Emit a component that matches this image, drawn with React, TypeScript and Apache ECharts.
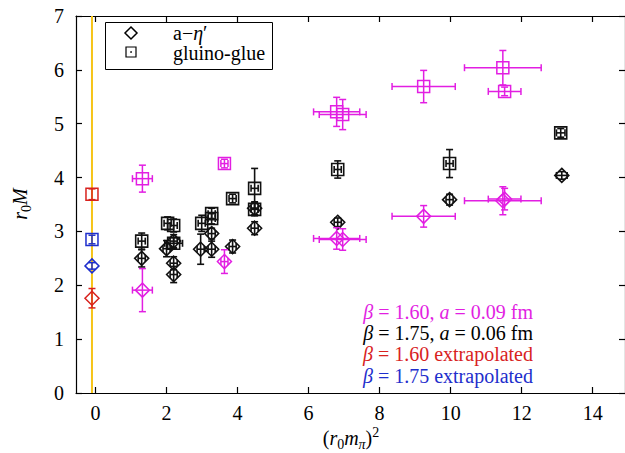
import React, { useEffect, useRef } from "react";
import * as echarts from "echarts";

// ---- axis ranges and ticks ----
const X_MIN = -0.55;
const X_MAX = 14.91;
const Y_MIN = 0;
const Y_MAX = 7;
const xTicks = [0, 2, 4, 6, 8, 10, 12, 14];
const extrapolationX = -0.1;

// ---- data: [x, y, xErr, yErr] ----
const magentaSquares = [
  [1.32, 3.98, 0.28, 0.25],
  [3.63, 4.26, 0.1, 0.08],
  [6.79, 5.22, 0.65, 0.27],
  [6.96, 5.17, 0.66, 0.28],
  [9.24, 5.69, 0.89, 0.3],
  [11.47, 6.04, 1.08, 0.32],
  [11.52, 5.6, 0.46, 0.08],
];
const magentaDiamonds = [
  [1.32, 1.91, 0.28, 0.4],
  [3.63, 2.44, 0.1, 0.22],
  [6.79, 2.87, 0.65, 0.2],
  [6.96, 2.85, 0.66, 0.2],
  [9.24, 3.28, 0.89, 0.2],
  [11.47, 3.57, 1.08, 0.26],
  [11.52, 3.6, 0.46, 0.2],
];
const blackSquares = [
  [1.3, 2.82, 0.1, 0.15],
  [2.03, 3.15, 0.1, 0.12],
  [2.2, 3.11, 0.1, 0.12],
  [2.2, 2.78, 0.25, 0.1],
  [2.99, 3.15, 0.1, 0.15],
  [3.27, 3.33, 0.1, 0.1],
  [3.27, 3.24, 0.1, 0.1],
  [3.86, 3.61, 0.1, 0.08],
  [4.48, 3.8, 0.1, 0.37],
  [4.48, 3.41, 0.1, 0.12],
  [6.82, 4.15, 0.1, 0.16],
  [9.97, 4.26, 0.1, 0.26],
  [13.1, 4.83, 0.12, 0.08],
];
const blackDiamonds = [
  [1.3, 2.5, 0.1, 0.16],
  [2.0, 2.68, 0.1, 0.15],
  [2.2, 2.82, 0.1, 0.12],
  [2.2, 2.41, 0.1, 0.12],
  [2.2, 2.2, 0.1, 0.15],
  [2.96, 2.67, 0.1, 0.28],
  [3.27, 2.96, 0.1, 0.1],
  [3.27, 2.67, 0.1, 0.15],
  [3.86, 2.72, 0.1, 0.12],
  [4.48, 3.43, 0.1, 0.12],
  [4.48, 3.06, 0.1, 0.12],
  [6.82, 3.17, 0.1, 0.08],
  [9.97, 3.59, 0.1, 0.1],
  [13.13, 4.04, 0.15, 0.07],
];
const redSquares = [[extrapolationX, 3.69, 0, 0.1]];
const redDiamonds = [[extrapolationX, 1.76, 0, 0.18]];
const blueSquares = [[extrapolationX, 2.85, 0, 0.08]];
const blueDiamonds = [[extrapolationX, 2.36, 0, 0.06]];

const MAGENTA = "#e21ee2";
const BLACK = "#111111";
const RED = "#d8221e";
const BLUE = "#1e2ecc";
const YELLOW = "#f6c418";
const FONT = "'Liberation Serif', 'DejaVu Serif', serif";

function makeSeries(name: string, data: number[][], color: string, shape: string, lw: number) {
  return {
    type: "custom",
    name,
    data,
    xAxisIndex: 0,
    yAxisIndex: 0,
    z: 5,
    renderItem: (_params: any, api: any) => {
      const x = api.value(0);
      const y = api.value(1);
      const xe = api.value(2);
      const ye = api.value(3);
      const c = api.coord([x, y]);
      const cx = c[0];
      const cy = c[1];
      const style = { stroke: color, lineWidth: lw, fill: "none" };
      const cap = 3.5;
      const children: any[] = [];
      if (xe > 0) {
        const xl = api.coord([x - xe, y])[0];
        const xr = api.coord([x + xe, y])[0];
        children.push({ type: "line", shape: { x1: xl, y1: cy, x2: xr, y2: cy }, style });
        children.push({ type: "line", shape: { x1: xl, y1: cy - cap, x2: xl, y2: cy + cap }, style });
        children.push({ type: "line", shape: { x1: xr, y1: cy - cap, x2: xr, y2: cy + cap }, style });
      }
      if (ye > 0) {
        const yt = api.coord([x, y + ye])[1];
        const yb = api.coord([x, y - ye])[1];
        children.push({ type: "line", shape: { x1: cx, y1: yt, x2: cx, y2: yb }, style });
        children.push({ type: "line", shape: { x1: cx - cap, y1: yt, x2: cx + cap, y2: yt }, style });
        children.push({ type: "line", shape: { x1: cx - cap, y1: yb, x2: cx + cap, y2: yb }, style });
      }
      if (shape === "square") {
        children.push({ type: "rect", shape: { x: cx - 6, y: cy - 6, width: 12, height: 12 }, style });
      } else {
        const h = 7;
        children.push({
          type: "polygon",
          shape: { points: [[cx, cy - h], [cx + h, cy], [cx, cy + h], [cx - h, cy]] },
          style,
        });
      }
      return { type: "group", children };
    },
  };
}

function richSet(color: string, size: number) {
  return {
    r: { fontFamily: FONT, fontSize: size, fill: color, lineHeight: 26 },
    i: { fontFamily: FONT, fontSize: size, fill: color, fontStyle: "italic", lineHeight: 26 },
    s: { fontFamily: FONT, fontSize: 14, fill: color, lineHeight: 14, verticalAlign: "bottom" },
    si: { fontFamily: FONT, fontSize: 14, fill: color, fontStyle: "italic", lineHeight: 14, verticalAlign: "bottom" },
    p: { fontFamily: FONT, fontSize: 14, fill: color, lineHeight: 14, verticalAlign: "top" },
  };
}

function noteText(text: string, color: string, y: number) {
  return {
    type: "text",
    x: 533,
    y,
    z: 20,
    style: { text, align: "right", verticalAlign: "middle", rich: richSet(color, 20) },
  };
}

export default function App() {
  const ref = useRef<HTMLDivElement>(null);
  useEffect(() => {
    if (!ref.current) return;
    const chart = echarts.init(ref.current, undefined, { renderer: "svg" });
    const axisLine = { show: true, onZero: false, lineStyle: { color: "#000", width: 1.2 } };
    const xTick = { show: true, inside: true, length: 6, customValues: xTicks, lineStyle: { color: "#000", width: 1.2 } };
    const yTick = { show: true, inside: true, length: 6, lineStyle: { color: "#000", width: 1.2 } };
    chart.setOption({
      animation: false,
      backgroundColor: "#fff",
      grid: { left: 76, top: 16, width: 549, height: 377 },
      xAxis: [
        {
          type: "value", min: X_MIN, max: X_MAX, position: "bottom",
          axisLine, axisTick: xTick, splitLine: { show: false },
          axisLabel: { customValues: xTicks, fontFamily: FONT, fontSize: 20, color: "#000", margin: 10 },
        },
        {
          type: "value", min: X_MIN, max: X_MAX, position: "top",
          axisLine, axisTick: xTick, splitLine: { show: false }, axisLabel: { show: false },
        },
      ],
      yAxis: [
        {
          type: "value", min: Y_MIN, max: Y_MAX, interval: 1, position: "left",
          axisLine, axisTick: yTick, splitLine: { show: false },
          axisLabel: { fontFamily: FONT, fontSize: 20, color: "#000", margin: 12 },
        },
        {
          type: "value", min: Y_MIN, max: Y_MAX, interval: 1, position: "right",
          axisLine, axisTick: yTick, splitLine: { show: false }, axisLabel: { show: false },
        },
      ],
      series: [
        {
          type: "line",
          data: [[extrapolationX, Y_MIN], [extrapolationX, Y_MAX]],
          symbol: "none",
          lineStyle: { color: YELLOW, width: 2 },
          z: 2,
          silent: true,
        },
        makeSeries("black squares", blackSquares, BLACK, "square", 1.6),
        makeSeries("black diamonds", blackDiamonds, BLACK, "diamond", 1.6),
        makeSeries("magenta squares", magentaSquares, MAGENTA, "square", 1.5),
        makeSeries("magenta diamonds", magentaDiamonds, MAGENTA, "diamond", 1.5),
        makeSeries("red squares", redSquares, RED, "square", 1.5),
        makeSeries("red diamonds", redDiamonds, RED, "diamond", 1.5),
        makeSeries("blue squares", blueSquares, BLUE, "square", 1.5),
        makeSeries("blue diamonds", blueDiamonds, BLUE, "diamond", 1.5),
      ],
      graphic: [
        { type: "rect", z: 10, shape: { x: 105.5, y: 22.5, width: 167, height: 47 }, style: { fill: "#fff", stroke: "#000", lineWidth: 1 } },
        { type: "polygon", z: 11, shape: { points: [[131, 27], [137, 33], [131, 39], [125, 33]] }, style: { fill: "none", stroke: "#000", lineWidth: 1.5 } },
        { type: "rect", z: 11, shape: { x: 126, y: 47, width: 10, height: 10 }, style: { fill: "none", stroke: "#000", lineWidth: 1.2 } },
        { type: "circle", z: 11, shape: { cx: 131, cy: 52, r: 0.8 }, style: { fill: "#000" } },
        { type: "text", z: 11, x: 173, y: 33, style: { text: "{r|a−}{i|η}{r|′}", verticalAlign: "middle", rich: richSet("#000", 20) } },
        { type: "text", z: 11, x: 173, y: 53, style: { text: "{r|gluino-glue}", verticalAlign: "middle", rich: richSet("#000", 20) } },
        noteText("{i|β}{r| = 1.60, }{i|a}{r| = 0.09 fm}", MAGENTA, 312),
        noteText("{i|β}{r| = 1.75, }{i|a}{r| = 0.06 fm}", "#000", 333),
        noteText("{i|β}{r| = 1.60 extrapolated}", RED, 354),
        noteText("{i|β}{r| = 1.75 extrapolated}", BLUE, 376),
        {
          type: "text", z: 11, x: 351, y: 438,
          style: { text: "{r|(}{i|r}{s|0}{i|m}{si|π}{r|)}{p|2}", align: "center", verticalAlign: "middle", rich: richSet("#000", 20) },
        },
        {
          type: "text", z: 11, x: 20, y: 204, rotation: Math.PI / 2,
          style: { text: "{i|r}{s|0}{i|M}", align: "center", verticalAlign: "middle", rich: richSet("#000", 20) },
        },
      ],
    });
    return () => chart.dispose();
  }, []);
  return <div ref={ref} style={{ position: "fixed", left: 0, top: 0, width: 625, height: 453 }} />;
}
